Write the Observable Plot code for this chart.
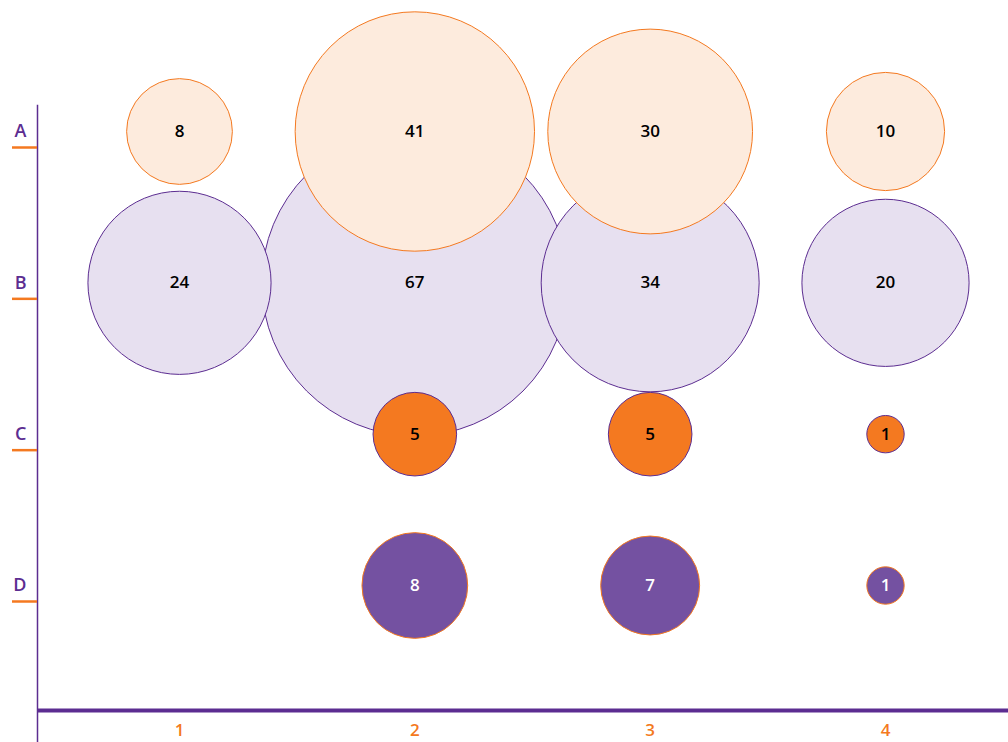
<!DOCTYPE html>
<html>
<head>
<meta charset="utf-8">
<script src="https://cdn.jsdelivr.net/npm/d3@7"></script>
<script src="https://cdn.jsdelivr.net/npm/@observablehq/plot@0.6"></script>
<style>
  html, body { margin: 0; padding: 0; background: #fff; }
  svg { display: block; }
</style>
</head>
<body>
<div id="chart"></div>
<script>
// ---- data ----
const columns = [1, 2, 3, 4];
const rowLabels = ["A", "B", "C", "D"];
const valuesA = [8, 41, 30, 10];
const valuesB = [24, 67, 34, 20];
const valuesC = [null, 5, 5, 1];
const valuesD = [null, 8, 7, 1];

// ---- styles ----
const ORANGE = "#f47920";
const PURPLE = "#5c2d91";
const PEACH = "#fdebdd";
const LAVENDER = "#e7e0f0";
const PURPLE_FILL = "#7451a1";

const rowIndex = {A: 1, B: 2, C: 3, D: 4};
function rows(label, values) {
  return columns.map((c, i) => ({col: c, row: rowIndex[label], value: values[i]}))
    .filter(d => d.value != null);
}
const dataA = rows("A", valuesA);
const dataB = rows("B", valuesB);
const dataC = rows("C", valuesC);
const dataD = rows("D", valuesD);

const font = "'Open Sans', sans-serif";
// positions in data units (computed from scale: y(1)=131px, 151.33px per row)
const xAxisLineY = 1 + (710 - 131) / 151.33;
const xLabelY = 1 + (730 - 131) / 151.33;

const chart = Plot.plot({
  width: 1008,
  height: 742,
  marginLeft: 37,
  marginRight: 0,
  marginTop: 105,
  marginBottom: 0,
  style: {fontFamily: font, background: "#fff"},
  x: {domain: [1, 4], range: [179, 885], axis: null},
  y: {domain: [1, 4], range: [131, 585], axis: null},
  r: {type: "sqrt", domain: [0, 67], range: [0, 153]},
  marks: [
    // axes lines
    Plot.frame({anchor: "left", stroke: PURPLE, strokeWidth: 1.5}),
    Plot.ruleY([xAxisLineY], {stroke: PURPLE, strokeWidth: 4}),
    // y tick marks (orange, below label)
    Plot.axisY({ticks: [1, 2, 3, 4], text: null, label: null, tickSize: 25, stroke: ORANGE, strokeWidth: 2.5, dy: 16}),
    Plot.axisY({ticks: [1, 2, 3, 4], tickFormat: i => rowLabels[i - 1], label: null, tickSize: 0, tickPadding: 11,
      fill: PURPLE, fontSize: 18, fontWeight: 600}),
    // x labels
    Plot.text(columns, {x: d => d, y: () => xLabelY, text: d => String(d), fill: ORANGE,
      fontSize: 17, fontWeight: 600}),
    // bubbles
    Plot.dot(dataB, {x: "col", y: "row", r: "value", fill: LAVENDER, stroke: PURPLE, strokeWidth: 1}),
    Plot.dot(dataA, {x: "col", y: "row", r: "value", fill: PEACH, stroke: ORANGE, strokeWidth: 1}),
    Plot.dot(dataC, {x: "col", y: "row", r: "value", fill: ORANGE, stroke: PURPLE, strokeWidth: 1}),
    Plot.dot(dataD, {x: "col", y: "row", r: "value", fill: PURPLE_FILL, stroke: ORANGE, strokeWidth: 1}),
    // numbers
    Plot.text([...dataA, ...dataB, ...dataC], {x: "col", y: "row", text: d => String(d.value),
      fill: "#000", fontSize: 17, fontWeight: 600}),
    Plot.text(dataD, {x: "col", y: "row", text: d => String(d.value), fill: "#fff", fontSize: 17, fontWeight: 600})
  ]
});
document.getElementById("chart").appendChild(chart);
</script>
</body>
</html>
